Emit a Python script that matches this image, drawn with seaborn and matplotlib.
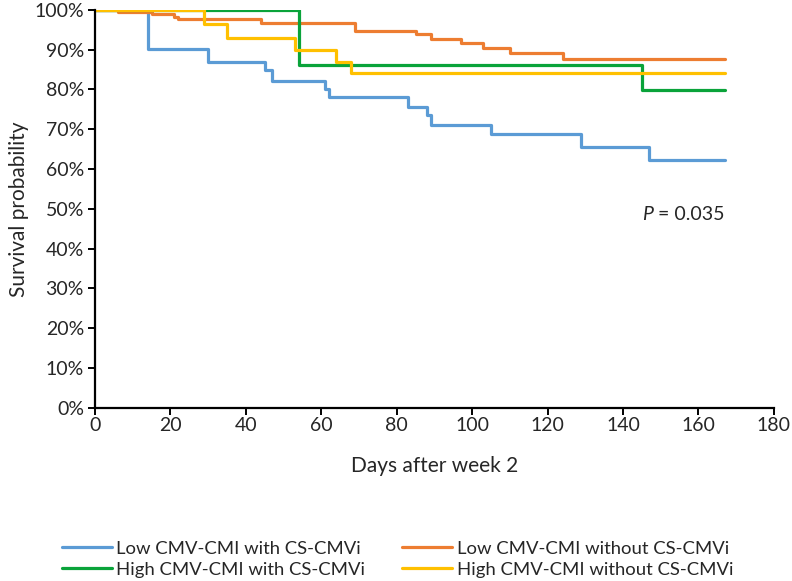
import numpy as np
import pandas as pd
import matplotlib
matplotlib.use("Agg")
import matplotlib.pyplot as plt
import seaborn as sns

# -------------------------------
# Data
# -------------------------------
groups = ["Low CMV-CMI with CS-CMVi", "Low CMV-CMI without CS-CMVi",
          "High CMV-CMI with CS-CMVi", "High CMV-CMI without CS-CMVi"]
colors = ["#5B9BD5", "#ED7D31", "#0AA33A", "#FFC000"]

low_with_days = [0, 14, 30, 45, 47, 61, 62, 83, 88, 89, 105, 129, 147, 167]
low_with_surv = [100, 90.1, 87.0, 84.8, 82.2, 80.1, 78.0, 75.7, 73.5, 71.0, 68.8, 65.6, 62.4, 62.4]

low_without_days = [0, 6, 15, 21, 22, 44, 69, 85, 89, 97, 103, 110, 124, 167]
low_without_surv = [100, 99.4, 98.9, 98.3, 97.7, 96.8, 94.8, 93.9, 92.6, 91.6, 90.4, 89.1, 87.7, 87.7]

high_with_days = [0, 54, 145, 167]
high_with_surv = [100, 86.2, 79.9, 79.9]

high_without_days = [0, 29, 35, 53, 64, 68, 167]
high_without_surv = [100, 96.5, 92.9, 89.8, 86.9, 84.1, 84.1]

x_ticks = list(range(0, 181, 20))
y_ticks = list(range(0, 101, 10))

days = [low_with_days, low_without_days, high_with_days, high_without_days]
survs = [low_with_surv, low_without_surv, high_with_surv, high_without_surv]
df = pd.concat([pd.DataFrame({"day": d, "surv": s, "group": g})
                for d, s, g in zip(days, survs, groups)], ignore_index=True)

# -------------------------------
# Plot
# -------------------------------
sns.set_style("white")
plt.rcParams["font.family"] = ["Lato", "DejaVu Sans"]
txt = "#262626"

fig = plt.figure(figsize=(7.92, 5.81), dpi=100)
ax = fig.add_axes([0.12, 0.298, 0.857, 0.685])

sns.lineplot(data=df, x="day", y="surv", hue="group", hue_order=groups,
             palette=colors, drawstyle="steps-post", estimator=None,
             linewidth=2.3, ax=ax, legend=False)

ax.set_xlim(0, 180)
ax.set_ylim(0, 100)
ax.set_xticks(x_ticks)
ax.set_yticks(y_ticks)
ax.set_yticklabels([f"{v}%" for v in y_ticks])
ax.tick_params(axis="both", labelsize=14, length=5, width=1.4,
               direction="out", left=True, bottom=True,
               colors="black", labelcolor=txt)
ax.tick_params(axis="x", pad=1.5)
ax.tick_params(axis="y", pad=3)
for side in ["top", "right"]:
    ax.spines[side].set_visible(False)
for side in ["left", "bottom"]:
    ax.spines[side].set_color("black")
    ax.spines[side].set_linewidth(1.6)

ax.set_xlabel("Days after week 2", fontsize=15, labelpad=16, color=txt)
ax.set_ylabel("Survival probability", fontsize=15, labelpad=4, color=txt)

p = ax.text(145, 48.5, "P", style="italic", fontsize=14, color=txt, va="center")
ax.annotate(" = 0.035", xy=(1, 0), xycoords=p, va="bottom",
            fontsize=14, color=txt)

# legend in row order
handles = [plt.Line2D([], [], color=c, linewidth=2.3) for c in colors]
order = [0, 2, 1, 3]
fig.legend([handles[i] for i in order], [groups[i] for i in order],
           loc="upper left", bbox_to_anchor=(0.078, 0.069), ncol=2,
           frameon=False, fontsize=13.3, handlelength=2.7, handletextpad=0.25,
           columnspacing=2.0, labelspacing=0.25, borderpad=0, borderaxespad=0)

plt.savefig("out.png", dpi=100)
